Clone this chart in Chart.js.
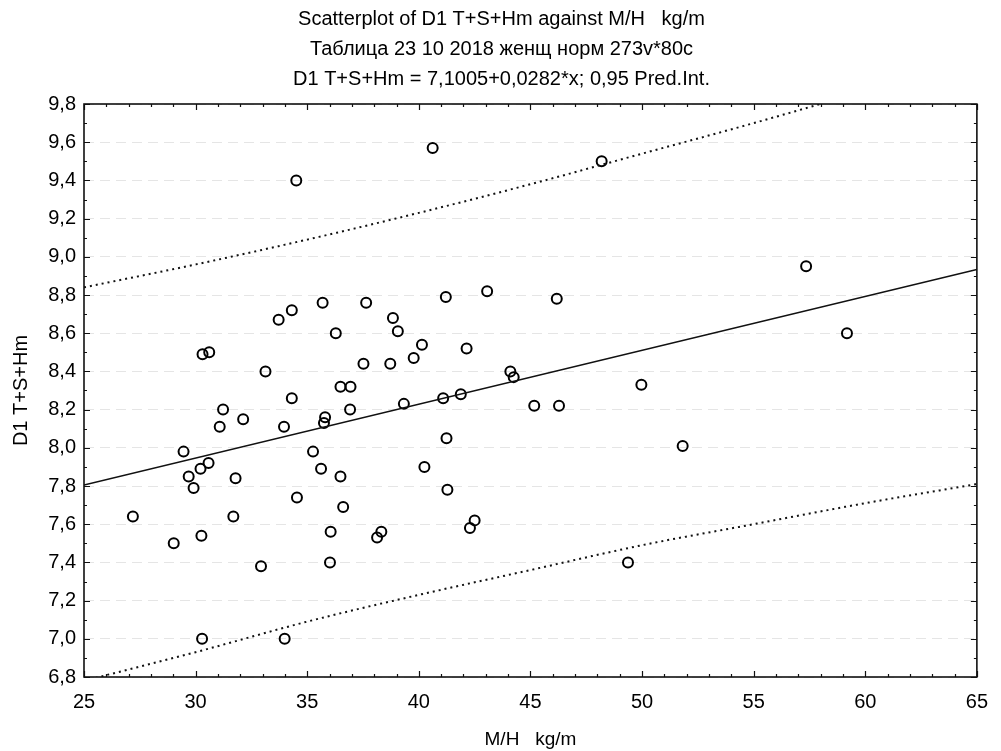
<!DOCTYPE html>
<html>
<head>
<meta charset="utf-8">
<script src="https://cdn.jsdelivr.net/npm/chart.js@4.4.1/dist/chart.umd.min.js"></script>
<style>
  html, body { margin: 0; padding: 0; background: #fff; }
  #wrap { width: 1001px; height: 751px; }
</style>
</head>
<body>
<div id="wrap"><canvas id="c" width="1001" height="751"></canvas></div>
<script>
// M/H (kg/m) for each subject
const mhValues = [
  27.19, 29.46, 29.69, 30.22, 30.58, 31.79, 30.31, 30.61, 31.08, 31.23,
  32.13, 33.13, 33.72, 34.31, 35.69, 37.64, 36.28, 37.52, 36.49, 36.94,
  34.31, 35.80, 35.75, 36.92, 33.96, 35.26, 35.62, 36.49, 29.91, 29.02,
  30.26, 31.69, 32.93, 34.54, 36.61, 36.05, 36.02, 38.13, 38.32, 30.29,
  33.99, 41.21, 43.06, 38.84, 39.06, 40.14, 39.77, 42.14, 38.72, 44.10,
  44.25, 39.33, 41.09, 41.88, 45.17, 41.24, 40.25, 41.28, 42.29, 42.50,
  48.19, 46.18, 57.35, 59.18, 49.97, 46.28, 34.51, 40.62, 51.82, 49.37
];
// D1 T+S+Hm for the same subjects
const d1Values = [
  7.64, 7.98, 7.85, 7.89, 7.92, 7.84, 8.49, 8.50, 8.11, 8.20,
  8.15, 8.40, 8.67, 8.72, 8.76, 8.76, 8.60, 8.44, 8.32, 8.32,
  8.26, 8.16, 8.13, 8.20, 8.11, 7.98, 7.89, 7.85, 7.79, 7.50,
  7.54, 7.64, 7.38, 7.74, 7.69, 7.56, 7.40, 7.53, 7.56, 7.00,
  7.00, 8.79, 8.82, 8.68, 8.61, 8.54, 8.47, 8.52, 8.44, 8.40,
  8.37, 8.23, 8.26, 8.28, 8.22, 8.05, 7.90, 7.78, 7.58, 7.62,
  9.50, 8.78, 8.95, 8.60, 8.33, 8.22, 9.40, 9.57, 8.01, 7.40
];

// Regression fit: D1 T+S+Hm = 7,1005 + 0,0282*x
const fitIntercept = 7.1005;
const fitSlope = 0.0282;
const fitX = [25, 65];

// 0,95 prediction interval bounds
const bandX     = [25,   30,   35,   40,   45,   50,   55,   60,   65];
const bandUpper = [8.84, 8.96, 9.09, 9.23, 9.38, 9.54, 9.70, 9.87, 10.05];
const bandLower = [6.78, 6.93, 7.09, 7.23, 7.36, 7.49, 7.60, 7.71, 7.81];

// Axis ticks
const xTicks = [25, 30, 35, 40, 45, 50, 55, 60, 65];
const yTicks = [6.8, 7.0, 7.2, 7.4, 7.6, 7.8, 8.0, 8.2, 8.4, 8.6, 8.8, 9.0, 9.2, 9.4, 9.6, 9.8];

const titleLines = [
  'Scatterplot of D1 T+S+Hm against M/H   kg/m',
  'Таблица 23 10 2018 женщ норм 273v*80c',
  'D1 T+S+Hm = 7,1005+0,0282*x; 0,95 Pred.Int.'
];
const xTitle = 'M/H   kg/m';
const yTitle = 'D1 T+S+Hm';

const FONT = '"Liberation Sans", Arial, sans-serif';

// Plot frame with inward major/minor tick marks on all four sides
const frameTicks = {
  id: 'frameTicks',
  afterDatasetsDraw(chart) {
    const { ctx, chartArea: a, scales: { x, y } } = chart;
    ctx.save();
    ctx.strokeStyle = '#111';
    ctx.lineWidth = 1.2;
    ctx.beginPath();
    const nx = Math.round(x.max - x.min);
    for (let i = 0; i <= nx; i++) {
      const v = x.min + i;
      const px = Math.round(x.getPixelForValue(v)) + 0.5;
      const len = (v % 5 === 0) ? 6 : 3;
      ctx.moveTo(px, a.bottom); ctx.lineTo(px, a.bottom - len);
      ctx.moveTo(px, a.top);    ctx.lineTo(px, a.top + len);
    }
    const ny = Math.round((y.max - y.min) * 10);
    for (let i = 0; i <= ny; i++) {
      const v = y.min + i / 10;
      const py = Math.round(y.getPixelForValue(v)) + 0.5;
      const len = (i % 2 === 0) ? 6 : 3;
      ctx.moveTo(a.left, py);  ctx.lineTo(a.left + len, py);
      ctx.moveTo(a.right, py); ctx.lineTo(a.right - len, py);
    }
    ctx.stroke();
    ctx.lineWidth = 1.6;
    ctx.strokeRect(a.left, a.top, a.right - a.left, a.bottom - a.top);
    ctx.restore();
  }
};

new Chart(document.getElementById('c'), {
  type: 'scatter',
  data: {
    datasets: [
      {
        label: 'upper',
        data: bandX.map((x, i) => ({ x, y: bandUpper[i] })),
        showLine: true,
        borderColor: '#111',
        borderWidth: 2,
        borderDash: [2, 4],
        cubicInterpolationMode: 'monotone',
        pointRadius: 0
      },
      {
        label: 'lower',
        data: bandX.map((x, i) => ({ x, y: bandLower[i] })),
        showLine: true,
        borderColor: '#111',
        borderWidth: 2,
        borderDash: [2, 4],
        cubicInterpolationMode: 'monotone',
        pointRadius: 0
      },
      {
        label: 'fit',
        data: fitX.map(x => ({ x, y: fitIntercept + fitSlope * x })),
        showLine: true,
        borderColor: '#111',
        borderWidth: 1.5,
        pointRadius: 0
      },
      {
        label: 'D1 T+S+Hm',
        data: mhValues.map((x, i) => ({ x, y: d1Values[i] })),
        pointStyle: 'circle',
        pointRadius: 5,
        borderColor: '#000',
        borderWidth: 2,
        backgroundColor: 'rgba(255,255,255,0)'
      }
    ]
  },
  options: {
    responsive: false,
    animation: false,
    devicePixelRatio: 1,
    layout: { padding: { left: 20, right: 18, top: 0, bottom: 0 } },
    plugins: {
      legend: { display: false },
      tooltip: { enabled: false },
      title: {
        display: true,
        text: titleLines,
        color: '#000',
        font: { family: FONT, size: 20, weight: 'normal', lineHeight: '30px' },
        padding: { top: 4, bottom: 10 }
      }
    },
    scales: {
      x: {
        type: 'linear',
        min: 25,
        max: 65,
        afterBuildTicks: s => { s.ticks = xTicks.map(v => ({ value: v })); },
        afterFit: s => { s.height = 74; },
        grid: { display: false, drawTicks: false },
        border: { display: false },
        ticks: {
          color: '#000',
          padding: 13,
          maxRotation: 0,
          font: { family: FONT, size: 20 },
          callback: v => String(v)
        },
        title: {
          display: true,
          text: xTitle,
          color: '#000',
          font: { family: FONT, size: 19 },
          padding: { top: 12, bottom: 0 }
        }
      },
      y: {
        type: 'linear',
        min: 6.8,
        max: 9.8,
        afterBuildTicks: s => { s.ticks = yTicks.map(v => ({ value: v })); },
        afterFit: s => { s.width = 64; },
        grid: { color: 'rgba(0,0,0,0.10)', lineWidth: 1, drawTicks: false },
        border: { display: false, dash: [10, 6] },
        ticks: {
          color: '#000',
          padding: 8,
          font: { family: FONT, size: 20 },
          callback: v => Number(v).toFixed(1).replace('.', ',')
        },
        title: {
          display: true,
          text: yTitle,
          color: '#000',
          font: { family: FONT, size: 20 },
          padding: { top: -11, bottom: 0 }
        }
      }
    }
  },
  plugins: [frameTicks]
});
</script>
</body>
</html>
